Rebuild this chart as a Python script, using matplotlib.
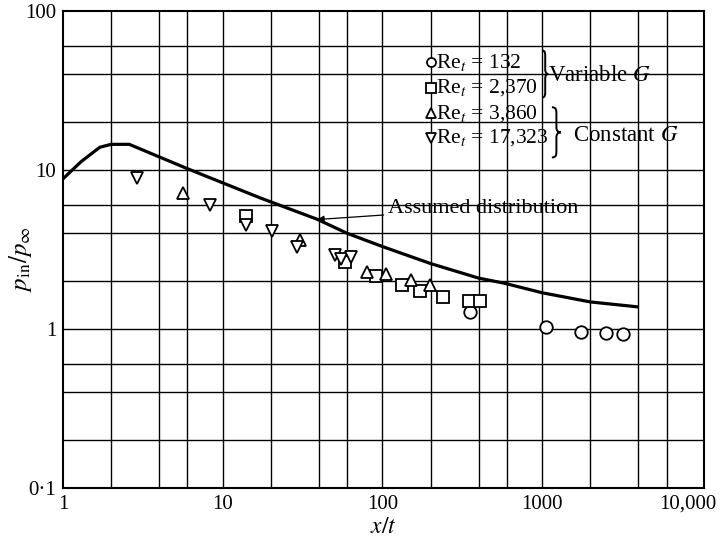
import numpy as np
import matplotlib
matplotlib.use("Agg")
import matplotlib.pyplot as plt
from matplotlib.path import Path
from matplotlib.patches import PathPatch
from matplotlib.transforms import IdentityTransform, ScaledTranslation

plt.rcParams['font.family'] = ['Liberation Serif', 'DejaVu Serif']
plt.rcParams['mathtext.fontset'] = 'stix'

# assumed distribution curve
curve_x = [1, 1.3, 1.7, 2.0, 2.6, 6, 10, 17, 39, 60, 100, 200, 400, 580, 1000, 2000, 3900]
curve_y = [8.8, 11.3, 13.9, 14.5, 14.5, 10.2, 8.3, 6.7, 4.9, 4.0, 3.3, 2.58, 2.09, 1.94, 1.69, 1.48, 1.38]

# Re_t = 132 (circles)
re132_x = [353, 1050, 1740, 2500, 3200]
re132_y = [1.27, 1.03, 0.96, 0.94, 0.93]

# Re_t = 2,370 (squares)
re2370_x = [14, 58, 91, 132, 172, 240, 348, 408]
re2370_y = [5.12, 2.63, 2.15, 1.89, 1.74, 1.58, 1.51, 1.50]

# Re_t = 3,860 (up triangles)
re3860_x = [5.66, 30.4, 80, 105, 150, 198]
re3860_y = [7.21, 3.62, 2.29, 2.21, 2.03, 1.89]

# Re_t = 17,323 (down triangles)
re17323_x = [2.89, 8.3, 14, 20.2, 29, 50.4, 55, 63.5]
re17323_y = [8.96, 6.06, 4.50, 4.14, 3.29, 2.91, 2.75, 2.83]

legend_labels = ['132', '2,370', '3,860', '17,323']
legend_markers = ['o', 's', '^', 'v']
legend_y = [47.7, 33.0, 22.7, 16.0]

x_ticks = [1, 10, 100, 1000, 10000]
x_ticklabels = ['1', '10', '100', '1000', '10,000']
y_ticks = [0.1, 1, 10, 100]
y_ticklabels = ['0\u00b71', '1', '10', '100']

fig = plt.figure(figsize=(7.23, 5.43), dpi=100)
ax = fig.add_axes([63 / 723, 55 / 543, 641 / 723, 477 / 543])
ax.set_xscale('log')
ax.set_yscale('log')
ax.set_xlim(1, 10300)
ax.set_ylim(0.1, 100)

# grid at 1, 2, 4, 6 per decade
grid_x = [m * 10 ** d for d in range(0, 4) for m in (2, 4, 6)] + [10, 100, 1000]
grid_y = [m * 10 ** d for d in range(-1, 2) for m in (2, 4, 6)] + [1, 10]
for gx in grid_x:
    ax.axvline(gx, color='black', lw=1.0, zorder=1)
for gy in grid_y:
    ax.axhline(gy, color='black', lw=1.0, zorder=1)

ax.plot(curve_x, curve_y, color='black', lw=2.3, zorder=3)

mk = dict(linestyle='none', mfc='white', mec='black', mew=1.3, zorder=4)
ax.plot(re132_x, re132_y, marker='o', ms=9, **mk)
ax.plot(re2370_x, re2370_y, marker='s', ms=8, **mk)
ax.plot(re3860_x, re3860_y, marker='^', ms=9, **mk)
ax.plot(re17323_x, re17323_y, marker='v', ms=9, **mk)

# in-plot legend
for lab, m, ly in zip(legend_labels, legend_markers, legend_y):
    ax.plot([200], [ly], marker=m, ms=6.5, **mk)
    ax.text(215, ly, r'Re$_t$ = ' + lab, fontsize=15.5, va='center', ha='left', zorder=5)

ax.text(1090, 39.3, r'Variable $G$', fontsize=16.5, va='center', ha='left')
ax.text(1560, 16.5, r'Constant $G$', fontsize=16.5, va='center', ha='left')

ax.annotate('Assumed distribution', xy=(39, 4.88), xytext=(108, 5.75),
            fontsize=16, va='center', ha='left',
            arrowprops=dict(arrowstyle='-|>', color='black', lw=0.9,
                            mutation_scale=10, shrinkA=1, shrinkB=0))


def brace(x, ytop, ybot, width):
    (px, pt), (_, pb) = ax.transData.transform([(x, ytop), (x, ybot)])
    h = pt - pb
    pts = [(0, 1), (0.5, 1), (0.5, 0.95), (0.5, 0.85),
           (0.5, 0.6),
           (0.5, 0.53), (0.7, 0.5), (1, 0.5),
           (0.7, 0.5), (0.5, 0.47), (0.5, 0.4),
           (0.5, 0.15),
           (0.5, 0.05), (0.5, 0), (0, 0)]
    codes = [Path.MOVETO, Path.CURVE4, Path.CURVE4, Path.CURVE4,
             Path.LINETO,
             Path.CURVE4, Path.CURVE4, Path.CURVE4,
             Path.CURVE4, Path.CURVE4, Path.CURVE4,
             Path.LINETO,
             Path.CURVE4, Path.CURVE4, Path.CURVE4]
    verts = [(px + u * width, pb + v * h) for u, v in pts]
    fig.add_artist(PathPatch(Path(verts, codes), fill=False, lw=1.4,
                             ec='black', transform=IdentityTransform()))


brace(1000, 56.4, 28.6, 6)
brace(1150, 24.8, 12.0, 9)

ax.set_xticks(x_ticks)
ax.set_xticklabels(x_ticklabels)
ax.set_yticks(y_ticks)
ax.set_yticklabels(y_ticklabels)
ax.minorticks_off()
ax.tick_params(length=0, labelsize=15, pad=5)

# pull the last x label inwards so it stays inside the figure
last = ax.get_xticklabels()[-1]
last.set_transform(last.get_transform() + ScaledTranslation(-10 / 72, 0, fig.dpi_scale_trans))

ax.set_xlabel(r'$x/t$', fontsize=17, labelpad=2)
ax.set_ylabel(r'$p_{\rm in}/p_\infty$', fontsize=18)
ax.yaxis.set_label_coords(-0.045, 0.48)

for s in ax.spines.values():
    s.set_linewidth(1.5)

fig.savefig('out.png', dpi=100)
